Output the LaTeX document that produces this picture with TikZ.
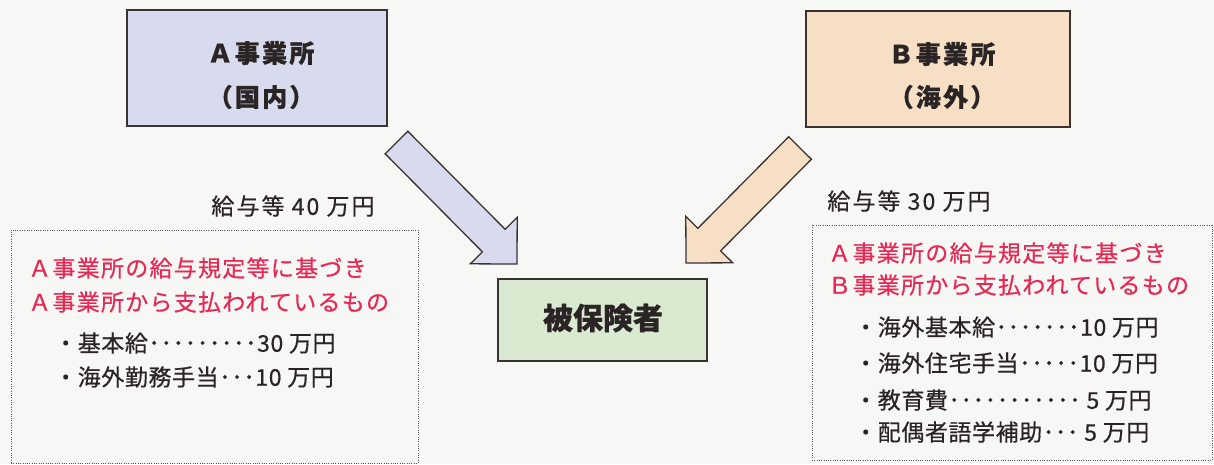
\documentclass[tikz,border=0pt]{standalone}
\usepackage{fontspec}
\setmainfont{Noto Sans CJK JP}
\usetikzlibrary{calc}
\definecolor{paper}{HTML}{F7F7F5}
\definecolor{boxline}{HTML}{3A3232}
\definecolor{lavender}{HTML}{D8DAEE}
\definecolor{peach}{HTML}{F6DFC4}
\definecolor{mint}{HTML}{DAEAD0}
\definecolor{redtext}{HTML}{E62A55}
\definecolor{inktext}{HTML}{2A2424}
\definecolor{dotline}{HTML}{5A5656}
\newcommand{\bodyfnt}{\fontsize{23}{27}\selectfont\addfontfeature{LetterSpace=2.5,FakeBold=0.5}}
\newcommand{\redfnt}{\fontsize{23}{27}\selectfont\addfontfeature{LetterSpace=5.5,FakeBold=0.5}}
\newcommand{\labelfnt}{\fontsize{23}{27}\selectfont\addfontfeature{LetterSpace=9,FakeBold=0.5}}
\begin{document}
\begin{tikzpicture}[x=1pt,y=-1pt,
  officebox/.style={draw=boxline,line width=1.5pt,inner sep=0pt},
  titletext/.style={inner sep=0pt,text=inktext,font=\fontsize{25}{29}\selectfont\bfseries\addfontfeature{LetterSpace=9,FakeBold=0.8}},
  persontext/.style={inner sep=0pt,text=inktext,font=\fontsize{30}{34}\selectfont\bfseries\addfontfeature{FakeBold=0.6}},
  amounttext/.style={inner sep=0pt,text=inktext,font=\labelfnt},
  redline/.style={inner sep=0pt,anchor=west,text=redtext,font=\redfnt},
  itemline/.style={inner sep=0pt,anchor=west,text=inktext,font=\bodyfnt},
  dotbox/.style={draw=dotline,line width=1pt,dash pattern=on 1pt off 1.3pt,inner sep=0pt},
  blockarrow/.style={draw=boxline,line width=1.3pt,line join=miter}
]
\useasboundingbox (0,0) rectangle (1214,464);
\fill[paper] (0,0) rectangle (1214,464);

% offices
\node[officebox,fill=lavender,minimum width=260pt,minimum height=116pt] (A) at (257,68) {};
\node[titletext] (At1) at (261,53) {Ａ事業所};
\node[titletext] (At2) at (261,97) {（国内）};

\node[officebox,fill=peach,minimum width=264pt,minimum height=116pt] (B) at (938,69) {};
\node[titletext] (Bt1) at (942,54) {Ｂ事業所};
\node[titletext] (Bt2) at (942,97) {（海外）};

\node[officebox,fill=mint,minimum width=209pt,minimum height=82pt] (P) at (602.5,320) {};
\node[persontext] (Pt) at (603,318) {被保険者};

% block arrows
\coordinate (atail) at (396.5,142.5);
\coordinate (atip) at (517,264);
\coordinate (abase) at ($(atip)!33pt!(atail)$);
\filldraw[blockarrow,fill=lavender]
  ($(atail)!16pt!90:(atip)$) -- ($(abase)!16pt!90:(atip)$) -- ($(abase)!33pt!90:(atip)$)
  -- (atip) -- ($(abase)!33pt!-90:(atip)$) -- ($(abase)!16pt!-90:(atip)$)
  -- ($(atail)!16pt!-90:(atip)$) -- cycle;

\coordinate (btail) at (800,148);
\coordinate (btip) at (686,263);
\coordinate (bbase) at ($(btip)!33pt!(btail)$);
\filldraw[blockarrow,fill=peach]
  ($(btail)!16pt!90:(btip)$) -- ($(bbase)!16pt!90:(btip)$) -- ($(bbase)!33pt!90:(btip)$)
  -- (btip) -- ($(bbase)!33pt!-90:(btip)$) -- ($(bbase)!16pt!-90:(btip)$)
  -- ($(btail)!16pt!-90:(btip)$) -- cycle;

% amount labels
\node[amounttext] (La) at (293,206) {給与等 40 万円};
\node[amounttext] (Lb) at (909,201) {給与等 30 万円};

% detail boxes
\node[dotbox,minimum width=407pt,minimum height=233pt] (DA) at (214.5,346.5) {};
\node[redline] (DA1) at (28,268) {Ａ事業所の給与規定等に基づき};
\node[redline] (DA2) at (28,302) {Ａ事業所から支払われているもの};
\node[itemline] (DA3) at (54,343) {・基本給･････････30 万円};
\node[itemline] (DA4) at (54,377) {・海外勤務手当･･･10 万円};

\node[dotbox,minimum width=400pt,minimum height=235pt] (DB) at (1012,342.5) {};
\node[redline] (DB1) at (828,253) {Ａ事業所の給与規定等に基づき};
\node[redline] (DB2) at (828,285) {Ｂ事業所から支払われているもの};
\node[itemline] (DB3) at (854,327) {・海外基本給･･･････10 万円};
\node[itemline] (DB4) at (854,363) {・海外住宅手当･････10 万円};
\node[itemline] (DB5) at (854,400) {・教育費･･･････････ 5 万円};
\node[itemline] (DB6) at (854,432) {・配偶者語学補助･･･ 5 万円};
\end{tikzpicture}
\end{document}
